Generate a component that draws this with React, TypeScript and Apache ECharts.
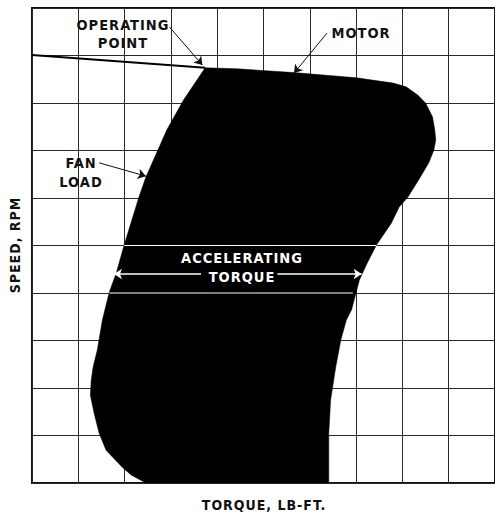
import React, { useEffect, useRef } from "react";
import * as echarts from "echarts";

// Axis ranges (torque and speed, in grid divisions)
const torqueTicks = [0, 1, 2, 3, 4, 5, 6, 7, 8, 9, 10];
const speedTicks = [0, 1, 2, 3, 4, 5, 6, 7, 8, 9, 10];

// Motor line from the speed axis to the operating point
const motorTorque = [0, 3.74];
const motorSpeed = [9.01, 8.74];

// Outline of the accelerating-torque region (motor curve on the right, fan load on the left)
const shapeTorque = [
  3.74, 4.44, 5.66, 7.01, 7.8, 8.08, 8.33, 8.5, 8.65, 8.7, 8.72, 8.68, 8.57, 8.35, 8.12, 7.93,
  7.76, 7.44, 7.24, 7.07, 6.9, 6.79, 6.67, 6.56, 6.45, 6.41, 6.41,
  2.46, 2.14, 1.94, 1.6, 1.45, 1.35, 1.26, 1.28, 1.32, 1.41, 1.52, 1.6, 1.67, 1.82, 1.99, 2.31,
  2.46, 2.91, 3.27,
];
const shapeSpeed = [
  8.74, 8.72, 8.64, 8.53, 8.42, 8.34, 8.17, 8.0, 7.71, 7.43, 7.22, 7.01, 6.74, 6.38, 6.02, 5.81,
  5.47, 5.01, 4.63, 4.27, 3.64, 3.43, 3.01, 2.44, 1.75, 1.05, 0,
  0, 0.17, 0.34, 0.69, 1.05, 1.43, 1.85, 2.17, 2.44, 2.8, 3.43, 3.75, 4.02, 4.42, 5.01, 6.02,
  6.44, 7.43, 8.06,
];

// White grid segments visible inside the region
const whiteLineSpeed = [5, 4];
const whiteLineFrom = [1.99, 1.67];
const whiteLineTo = [7.44, 6.93];

// Accelerating torque double arrow
const accelSpeed = 4.4;
const accelLeft = [3.65, 1.77];
const accelRight = [5.3, 7.12];

// Callout arrows [fromTorque, fromSpeed, toTorque, toSpeed]
const operatingArrow = [2.97, 9.6, 3.68, 8.8];
const motorArrow = [6.37, 9.47, 5.66, 8.63];
const fanArrow = [1.45, 6.74, 2.46, 6.46];

const FONT = '"Liberation Sans Narrow", "DejaVu Sans Condensed", "Liberation Sans", sans-serif';

export default function App() {
  const ref = useRef<HTMLDivElement>(null);
  useEffect(() => {
    if (!ref.current) return;
    const chart = echarts.init(ref.current, undefined, { renderer: "svg" });
    const txt = (text: string, x: number, y: number, size: number, fill = "#111", rotation = 0) => ({
      type: "text",
      x,
      y,
      rotation,
      z: 100,
      style: {
        text,
        fill,
        font: `bold ${size}px ${FONT}`,
        textAlign: "center",
        textVerticalAlign: "middle",
      },
    });
    chart.setOption({
      animation: false,
      grid: {
        left: 32,
        top: 8,
        bottom: 29,
        right: -5,
        show: true,
        borderColor: "#111",
        borderWidth: 2,
        backgroundColor: "transparent",
      },
      xAxis: {
        type: "value",
        min: torqueTicks[0],
        max: torqueTicks[torqueTicks.length - 1],
        interval: 1,
        axisLine: { show: false },
        axisTick: { show: false },
        axisLabel: { show: false },
        splitLine: { show: true, lineStyle: { color: "#2a2a2a", width: 1 } },
      },
      yAxis: {
        type: "value",
        min: speedTicks[0],
        max: speedTicks[speedTicks.length - 1],
        interval: 1,
        axisLine: { show: false },
        axisTick: { show: false },
        axisLabel: { show: false },
        splitLine: { show: true, lineStyle: { color: "#2a2a2a", width: 1 } },
      },
      series: [
        {
          type: "custom",
          data: [0],
          z: 3,
          renderItem: (params: any, api: any) => ({
            type: "polygon",
            shape: { points: shapeTorque.map((t, i) => api.coord([t, shapeSpeed[i]])) },
            style: { fill: "#000", stroke: "#000", lineWidth: 0.5 },
          }),
        },
        {
          type: "line",
          z: 4,
          data: motorTorque.map((t, i) => [t, motorSpeed[i]]),
          symbol: "none",
          lineStyle: { color: "#000", width: 2 },
        },
        ...whiteLineSpeed.map((s, i) => ({
          type: "line",
          z: 5,
          data: [
            [whiteLineFrom[i], s],
            [whiteLineTo[i], s],
          ],
          symbol: "none",
          lineStyle: { color: "#fff", width: 1 },
        })),
        {
          type: "lines",
          coordinateSystem: "cartesian2d",
          z: 6,
          symbol: ["none", "arrow"],
          symbolSize: 8,
          lineStyle: { color: "#fff", width: 1.5, opacity: 1 },
          data: [
            { coords: [[accelLeft[0], accelSpeed], [accelLeft[1], accelSpeed]] },
            { coords: [[accelRight[0], accelSpeed], [accelRight[1], accelSpeed]] },
          ],
        },
        {
          type: "lines",
          coordinateSystem: "cartesian2d",
          z: 6,
          symbol: ["none", "arrow"],
          symbolSize: 8,
          lineStyle: { color: "#111", width: 1, opacity: 1 },
          data: [operatingArrow, motorArrow, fanArrow].map((a) => ({
            coords: [[a[0], a[1]], [a[2], a[3]]],
          })),
        },
      ],
      graphic: [
        txt("OPERATING", 123, 25, 14.5),
        txt("POINT", 123, 43, 14.5),
        txt("MOTOR", 361, 33, 14.5),
        txt("FAN", 81, 163, 14.5),
        txt("LOAD", 81, 182, 14.5),
        txt("ACCELERATING", 242, 258, 14.5, "#fff"),
        txt("TORQUE", 242, 277, 14.5, "#fff"),
        txt("SPEED, RPM", 15, 245, 14, "#111", Math.PI / 2),
        txt("TORQUE, LB-FT.", 264, 505, 14),
      ],
    });
    return () => chart.dispose();
  }, []);
  return (
    <>
      <style>{`.chartbox text{letter-spacing:1px}`}</style>
      <div
        ref={ref}
        className="chartbox"
        style={{ position: "absolute", left: 0, top: 0, width: 495, height: 512, background: "#fff" }}
      />
    </>
  );
}
